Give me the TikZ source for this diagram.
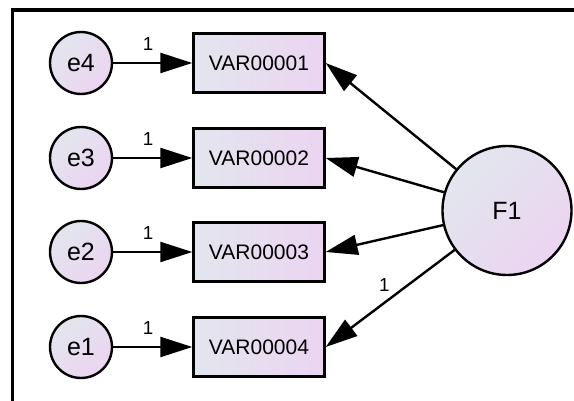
\documentclass[tikz,border=0pt]{standalone}
\usepackage{fontspec}
\setmainfont{Liberation Sans}
\usetikzlibrary{arrows.meta}
\definecolor{amosBlue}{HTML}{E2E6EE}
\definecolor{amosPink}{HTML}{ECD4F1}
\tikzset{
  obsVar/.style={draw, line width=1.2pt, minimum width=65.5pt, minimum height=29.5pt, inner sep=0pt, left color=amosBlue, right color=amosPink, font={\fontsize{10.5}{12}\selectfont}},
  errVar/.style={circle, draw, line width=1.2pt, minimum size=31pt, inner sep=0pt, top color=amosBlue, bottom color=amosPink, shading angle=45, font={\fontsize{12.5}{14}\selectfont}},
  latVar/.style={errVar, minimum size=64.5pt},
  regArrow/.style={-{Triangle[length=16pt,width=10pt]}, line width=1.2pt},
  wLabel/.style={font={\fontsize{9.4}{10}\selectfont}, inner sep=0pt}
}
\begin{document}
\begin{tikzpicture}[x=0.5pt,y=-0.5pt]
\useasboundingbox (0,0) rectangle (574,401);
\draw[line width=1.6pt] (12.5,401) -- (12.5,10) -- (574,10);
\node[errVar] (e4) at (81,63) {e4};
\node[errVar] (e3) at (81,158) {e3};
\node[errVar] (e2) at (81,252) {e2};
\node[errVar] (e1) at (81,347) {e1};
\node[obsVar] (var1) at (259,63) {VAR00001};
\node[obsVar] (var2) at (259,158) {VAR00002};
\node[obsVar] (var3) at (259,252) {VAR00003};
\node[obsVar] (var4) at (259,347) {VAR00004};
\node[latVar] (f1) at (507,210.5) {F1};
\draw[regArrow] (e4) -- node[wLabel, pos=0.44, above=5.4pt] {1} (var1);
\draw[regArrow] (e3) -- node[wLabel, pos=0.44, above=5.4pt] {1} (var2);
\draw[regArrow] (e2) -- node[wLabel, pos=0.44, above=5.4pt] {1} (var3);
\draw[regArrow] (e1) -- node[wLabel, pos=0.44, above=5.4pt] {1} (var4);
\draw[regArrow] (f1) -- (var1.east);
\draw[regArrow] (f1) -- (var2.east);
\draw[regArrow] (f1) -- (var3.east);
\draw[regArrow] (f1) -- node[wLabel, pos=0.47, above left=1.6pt] {1} (var4.east);
\end{tikzpicture}
\end{document}
